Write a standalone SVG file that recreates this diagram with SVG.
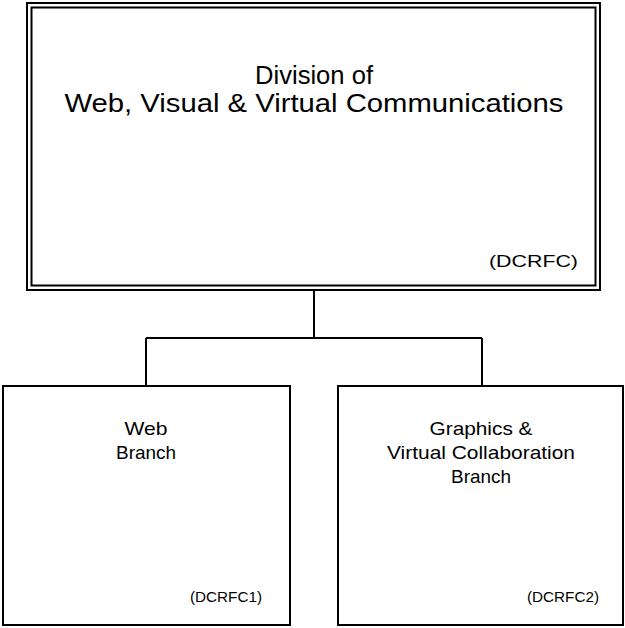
<svg xmlns="http://www.w3.org/2000/svg" width="625" height="628" viewBox="0 0 625 628">
<style>
.box{fill:#fff;stroke:#000;stroke-width:2}
.ln{fill:none;stroke:#000;stroke-width:2}
text{font-family:"Liberation Sans",Arial,sans-serif;fill:#000}
.t1{font-size:25px;text-anchor:middle}
.t2{font-size:19px;text-anchor:middle}
.c1{font-size:17px}
.c2{font-size:14.5px}
</style>
<rect width="625" height="628" fill="#fff"/>
<g id="connectors">
<path class="ln" d="M314,290 V338 M146,338 H482 M146,338 V386 M482,338 V386"/>
</g>
<g id="division">
<rect class="box" x="27" y="3" width="573" height="287"/>
<rect class="box" x="31.5" y="7.5" width="564" height="278"/>
<text class="t1" x="314" y="84" textLength="118" lengthAdjust="spacingAndGlyphs">Division of</text>
<text class="t1" x="314" y="112" textLength="499" lengthAdjust="spacingAndGlyphs">Web, Visual &amp; Virtual Communications</text>
<text class="c1" x="489" y="267" textLength="89" lengthAdjust="spacingAndGlyphs">(DCRFC)</text>
</g>
<g id="web">
<rect class="box" x="3" y="386" width="287" height="239"/>
<text class="t2" x="146" y="435" textLength="43" lengthAdjust="spacingAndGlyphs">Web</text>
<text class="t2" x="146" y="459" textLength="60" lengthAdjust="spacingAndGlyphs">Branch</text>
<text class="c2" x="190" y="602" textLength="72" lengthAdjust="spacingAndGlyphs">(DCRFC1)</text>
</g>
<g id="graphics">
<rect class="box" x="338" y="386" width="285" height="239"/>
<text class="t2" x="481" y="435" textLength="103" lengthAdjust="spacingAndGlyphs">Graphics &amp;</text>
<text class="t2" x="481" y="459" textLength="188" lengthAdjust="spacingAndGlyphs">Virtual Collaboration</text>
<text class="t2" x="481" y="483" textLength="60" lengthAdjust="spacingAndGlyphs">Branch</text>
<text class="c2" x="527" y="602" textLength="72" lengthAdjust="spacingAndGlyphs">(DCRFC2)</text>
</g>
</svg>
